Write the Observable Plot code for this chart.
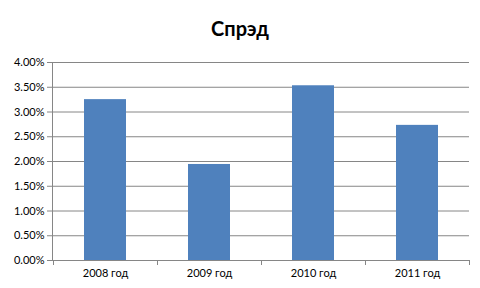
<!DOCTYPE html>
<html>
<head>
<meta charset="utf-8">
<script src="https://cdn.jsdelivr.net/npm/d3@7"></script>
<script src="https://cdn.jsdelivr.net/npm/@observablehq/plot@0.6"></script>
<style>
  html, body { margin: 0; padding: 0; background: #fff; }
  #title { width: 480px; height: 44px; padding-top: 6px; line-height: 44px; text-align: center;
           font-family: Lato, "Open Sans", sans-serif; font-weight: bold; font-size: 20px; color: #000; }
  #chart svg { display: block; }
</style>
</head>
<body>
<div id="title">Спрэд</div>
<div id="chart"></div>
<script>
const categories = ["2008 год", "2009 год", "2010 год", "2011 год"];
const spread = [0.0325, 0.0194, 0.0353, 0.0273];
const yTicks = [0, 0.005, 0.01, 0.015, 0.02, 0.025, 0.03, 0.035, 0.04];

const data = categories.map((c, i) => ({year: c, value: spread[i]}));
const axisColor = "#868686";

// category boundary ticks (Excel-style) derived from the band scale
function boundaryTicks(index, scales, values, dimensions) {
  const x = scales.x;
  const bw = typeof x.bandwidth === "function" ? x.bandwidth() : x.bandwidth;
  const step = x(categories[1]) - x(categories[0]);
  const gap = (step - bw) / 2;
  const edges = categories.map(c => x(c) - gap);
  edges.push(x(categories[categories.length - 1]) + bw + gap);
  const yb = dimensions.height - dimensions.marginBottom;
  const g = d3.create("svg:g");
  g.selectAll("line").data(edges.filter(e => isFinite(e))).join("line")
    .attr("x1", d => Math.round(d) + 0.5).attr("x2", d => Math.round(d) + 0.5)
    .attr("y1", yb).attr("y2", yb + 5)
    .attr("stroke", axisColor);
  return g.node();
}

const chart = Plot.plot({
  width: 480,
  height: 238,
  marginTop: 12,
  marginBottom: 28,
  marginLeft: 52,
  marginRight: 11,
  style: {fontFamily: "Lato, 'Open Sans', sans-serif", fontSize: "11px", color: "#000", background: "#fff"},
  x: {domain: categories, paddingInner: 0.6, paddingOuter: 0.3, label: null},
  y: {domain: [0, 0.04], label: null},
  marks: [
    Plot.gridY(yTicks, {stroke: axisColor, strokeOpacity: 1}),
    Plot.barY(data, {x: "year", y: "value", fill: "#4F81BD"}),
    Plot.frame({anchor: "left", stroke: axisColor}),
    Plot.frame({anchor: "bottom", stroke: axisColor}),
    Plot.axisY(yTicks, {tickFormat: d3.format(".2%"), tickSize: 5, tickPadding: 3, stroke: axisColor, fill: "#000", label: null}),
    Plot.axisX({tickSize: 0, tickPadding: 9, fill: "#000", label: null}),
    boundaryTicks
  ]
});
document.getElementById("chart").append(chart);
</script>
</body>
</html>
